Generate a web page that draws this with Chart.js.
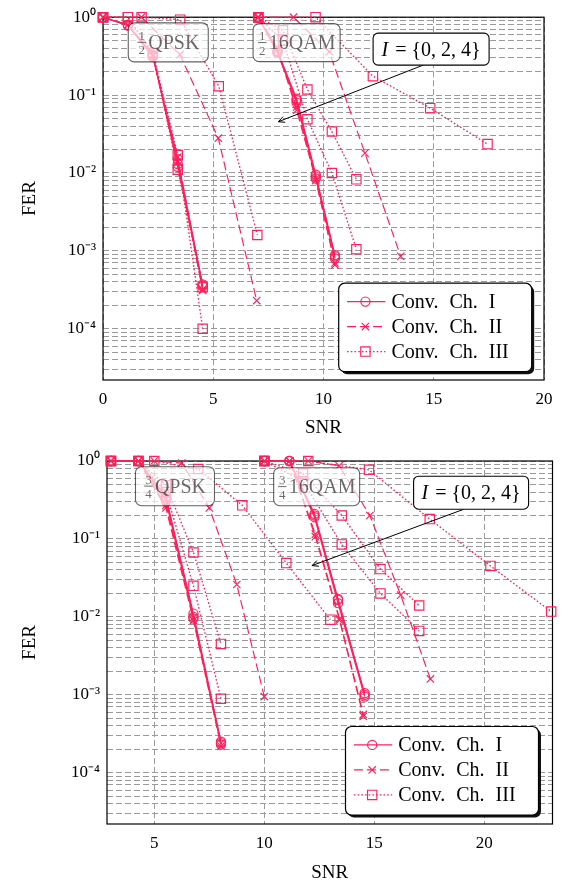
<!DOCTYPE html>
<html><head><meta charset="utf-8">
<script src="https://cdn.jsdelivr.net/npm/chart.js@4.4.1/dist/chart.umd.min.js"></script>
<style>
html,body{margin:0;padding:0;background:#fff;}
.wrap{position:relative;width:562px;height:443px;}
</style></head><body>
<div class="wrap"><canvas id="c1"></canvas></div>
<div class="wrap"><canvas id="c2"></canvas></div>
<script>
// ---------------- shared axis labels ----------------
const yTickValues = [1, 0.1, 0.01, 0.001, 0.0001];
const yTickLabels = ['10⁰', '10⁻¹', '10⁻²', '10⁻³', '10⁻⁴'];
const legendLabels = ['Conv. Ch. I', 'Conv. Ch. II', 'Conv. Ch. III'];

// ---------------- top chart: rate 1/2 ----------------
const topXTicks = [0, 5, 10, 15, 20];
const topXTickLabels = ['0', '5', '10', '15', '20'];

// 1/2 QPSK
const t_qpsk_fast_x   = [0, 1.13, 2.26, 3.39, 4.52];
const t_qpsk_ch1_i0   = [1, 0.80, 0.33, 0.012, 3.6e-4];
const t_qpsk_ch1_i2   = [1, 0.79, 0.32, 0.013, 3.5e-4];
const t_qpsk_ch1_i4   = [1, 0.78, 0.31, 0.015, 3.7e-4];
const t_qpsk_ch2_i0   = [1, 0.80, 0.33, 0.014, 3.1e-4];
const t_qpsk_ch2_i2   = [1, 0.79, 0.32, 0.016, 3.2e-4];
const t_qpsk_ch2s_x   = [0, 1.74, 3.49, 5.23, 6.97];
const t_qpsk_ch2s_y   = [1, 1, 0.33, 0.028, 2.3e-4];
const t_qpsk_ch3_i0   = [1, 1, 0.35, 0.017, 1.0e-4];
const t_qpsk_ch3_i2   = [1, 1, 0.34, 0.011, 3.4e-4];
const t_qpsk_ch3s_x   = [0, 1.75, 3.5, 5.25, 7.0];
const t_qpsk_ch3s_y   = [1, 1, 0.93, 0.13, 1.6e-3];

// 1/2 16QAM
const t_qam_fast_x    = [7.04, 7.91, 8.78, 9.65, 10.52];
const t_qam_ch1_i0    = [1, 0.36, 0.086, 0.0090, 8.5e-4];
const t_qam_ch1_i2    = [1, 0.35, 0.080, 0.0085, 8.0e-4];
const t_qam_ch1_i4    = [1, 0.37, 0.090, 0.0095, 8.8e-4];
const t_qam_ch2_i0    = [1, 0.40, 0.064, 0.0085, 6.6e-4];
const t_qam_ch2_i2    = [1, 0.38, 0.070, 0.0080, 7.0e-4];
const t_qam_ch2s_x    = [7.02, 8.64, 10.26, 11.88, 13.5];
const t_qam_ch2s_y    = [1, 1, 0.36, 0.018, 8.5e-4];
const t_qam_ch3m_x    = [7.04, 8.16, 9.27, 10.38, 11.49];
const t_qam_ch3m_a    = [1, 0.68, 0.118, 0.034, 0.0083];
const t_qam_ch3m_b    = [1, 0.50, 0.049, 0.010, 1.05e-3];
const t_qam_ch3s_x    = [7.04, 9.64, 12.24, 14.84, 17.44];
const t_qam_ch3s_y    = [1, 1, 0.175, 0.068, 0.0235];

// ---------------- bottom chart: rate 3/4 ----------------
const botXTicks = [5, 10, 15, 20];
const botXTickLabels = ['5', '10', '15', '20'];

// 3/4 QPSK
const b_qpsk_fast_x   = [3.03, 4.28, 5.53, 6.78, 8.03];
const b_qpsk_ch1_i0   = [1, 1, 0.33, 0.010, 2.4e-4];
const b_qpsk_ch1_i2   = [1, 1, 0.31, 0.0095, 2.3e-4];
const b_qpsk_ch1_i4   = [1, 1, 0.35, 0.011, 2.5e-4];
const b_qpsk_ch2_i0   = [1, 1, 0.25, 0.0090, 2.2e-4];
const b_qpsk_ch2_i2   = [1, 1, 0.27, 0.0098, 2.4e-4];
const b_qpsk_ch2s_x   = [3.03, 5.0, 6.25, 7.5, 8.75, 10.0];
const b_qpsk_ch2s_y   = [1, 1, 0.94, 0.25, 0.026, 9.5e-4];
const b_qpsk_ch3m_a   = [1, 1, 0.49, 0.067, 0.0045];
const b_qpsk_ch3m_b   = [1, 1, 0.40, 0.025, 8.9e-4];
const b_qpsk_ch3s_x   = [3.03, 5.0, 7.0, 9.0, 11.0, 13.0];
const b_qpsk_ch3s_y   = [1, 1, 0.79, 0.27, 0.049, 0.0092];

// 3/4 16QAM
const b_qam_ch1_x     = [10, 11.14, 12.28, 13.35, 14.56];
const b_qam_ch1_i0    = [1, 1, 0.20, 0.0165, 1.0e-3];
const b_qam_ch1_i2    = [1, 1, 0.19, 0.0150, 9.5e-4];
const b_qam_ch1_i4    = [1, 1, 0.21, 0.0170, 1.05e-3];
const b_qam_ch2_x     = [10, 11.15, 12.32, 13.42, 14.5];
const b_qam_ch2_i0    = [1, 1, 0.107, 0.0091, 5.3e-4];
const b_qam_ch2_i2    = [1, 1, 0.115, 0.0095, 5.6e-4];
const b_qam_ch2s_x    = [10, 12.0, 13.4, 14.8, 16.2, 17.55];
const b_qam_ch2s_y    = [1, 1, 0.87, 0.20, 0.019, 1.6e-3];
const b_qam_ch3m_x    = [10, 11.76, 13.52, 15.28, 17.04];
const b_qam_ch3m_a    = [1, 0.69, 0.20, 0.041, 0.014];
const b_qam_ch3m_b    = [1, 0.55, 0.085, 0.020, 0.0066];
const b_qam_ch3s_x    = [10, 12.0, 14.76, 17.52, 20.28, 23.04];
const b_qam_ch3s_y    = [1, 1, 0.77, 0.18, 0.045, 0.0117];

// ---------------- styling ----------------
const SERIF = '"Liberation Serif","Times New Roman",serif';
const RED = '#ff1f5a';
const STYLE = {
  I:   {dash: [],         w: 1.15, point: 'circle',   r: 4.6},
  II:  {dash: [9, 4],     w: 1.15, point: 'crossRot', r: 5.2},
  III: {dash: [1.6, 2.1], w: 1.35, point: 'rect',     r: 6.6}
};
function ds(ch, xs, ys) {
  const s = STYLE[ch];
  return {
    data: xs.map((x, i) => ({x: x, y: ys[i]})),
    borderColor: RED, borderWidth: s.w, borderDash: s.dash,
    pointStyle: s.point, pointRadius: s.r, pointHoverRadius: s.r,
    pointBorderColor: RED, pointBackgroundColor: 'rgba(0,0,0,0)', pointBorderWidth: 1.15,
    fill: false, tension: 0, clip: false
  };
}

function yGrid(min, max) {
  const out = [];
  for (let k = -6; k <= 0; k++) for (let m = 1; m <= 9; m++) {
    const v = m * Math.pow(10, k);
    if (v >= min * 0.999 && v <= max * 1.001) out.push(v);
  }
  return out;
}
function yLabel(v) {
  for (let i = 0; i < yTickValues.length; i++)
    if (Math.abs(Math.log10(v) - Math.log10(yTickValues[i])) < 1e-6) return yTickLabels[i];
  return '';
}

function roundRect(ctx, x, y, w, h, r) {
  ctx.beginPath();
  ctx.moveTo(x + r, y);
  ctx.lineTo(x + w - r, y); ctx.arcTo(x + w, y, x + w, y + r, r);
  ctx.lineTo(x + w, y + h - r); ctx.arcTo(x + w, y + h, x + w - r, y + h, r);
  ctx.lineTo(x + r, y + h); ctx.arcTo(x, y + h, x, y + h - r, r);
  ctx.lineTo(x, y + r); ctx.arcTo(x, y, x + r, y, r);
  ctx.closePath();
}

function drawMarker(ctx, ch, x, y) {
  const s = STYLE[ch];
  ctx.save();
  ctx.setLineDash([]);
  ctx.strokeStyle = RED; ctx.lineWidth = 1.15; ctx.fillStyle = 'rgba(0,0,0,0)';
  Chart.helpers.drawPoint(ctx, {pointStyle: s.point, radius: s.r, rotation: 0, borderWidth: 1.15}, x, y);
  ctx.restore();
}

const decorPlugin = {
  id: 'decor',
  beforeDatasetsDraw(chart) {
    const {ctx, chartArea: a} = chart;
    ctx.save();
    ctx.strokeStyle = '#000'; ctx.lineWidth = 1.2; ctx.setLineDash([]);
    ctx.strokeRect(a.left, a.top, a.right - a.left, a.bottom - a.top);
    ctx.restore();
  },
  afterDatasetsDraw(chart, args, opts) {
    const {ctx, chartArea: a} = chart;
    const xs = chart.scales.x, ys = chart.scales.y;
    ctx.save();
    // label boxes
    opts.boxes.forEach(b => {
      const cx = xs.getPixelForValue(b.x), cy = ys.getPixelForValue(b.y);
      const L = cx - b.w / 2, T = cy - b.h / 2;
      roundRect(ctx, L, T, b.w, b.h, 6);
      ctx.fillStyle = 'rgba(255,255,255,0.68)'; ctx.fill();
      ctx.strokeStyle = 'rgba(0,0,0,0.62)'; ctx.lineWidth = 1.1; ctx.setLineDash([]); ctx.stroke();
      ctx.font = '20px ' + SERIF;
      const tw = ctx.measureText(b.text).width;
      const fw = 9, gap = 2;
      const start = cx - (fw + gap + tw) / 2;
      const fx = start + fw / 2;
      ctx.fillStyle = 'rgba(0,0,0,0.58)';
      ctx.textAlign = 'center'; ctx.textBaseline = 'alphabetic';
      ctx.font = '13px ' + SERIF;
      ctx.fillText(b.num, fx, cy - 2.5);
      ctx.fillText(b.den, fx, cy + 12);
      ctx.fillRect(fx - 4.2, cy - 0.6, 8.4, 1);
      ctx.textAlign = 'left';
      ctx.font = '20px ' + SERIF;
      ctx.fillText(b.text, start + fw + gap, cy + 6.5);
    });
    // arrow
    const ar = opts.arrow;
    const x1 = xs.getPixelForValue(ar.x1), y1 = ys.getPixelForValue(ar.y1);
    const x2 = xs.getPixelForValue(ar.x2), y2 = ys.getPixelForValue(ar.y2);
    ctx.strokeStyle = '#000'; ctx.lineWidth = 1; ctx.setLineDash([]);
    ctx.beginPath(); ctx.moveTo(x1, y1); ctx.lineTo(x2, y2); ctx.stroke();
    const ang = Math.atan2(y2 - y1, x2 - x1);
    ctx.beginPath();
    ctx.moveTo(x2 - 7 * Math.cos(ang - 0.45), y2 - 7 * Math.sin(ang - 0.45));
    ctx.lineTo(x2, y2);
    ctx.lineTo(x2 - 7 * Math.cos(ang + 0.45), y2 - 7 * Math.sin(ang + 0.45));
    ctx.stroke();
    // I box
    const ib = opts.ibox;
    const icx = xs.getPixelForValue(ib.x), icy = ys.getPixelForValue(ib.y);
    roundRect(ctx, icx - ib.w / 2, icy - ib.h / 2, ib.w, ib.h, 5);
    ctx.fillStyle = '#fff'; ctx.fill();
    ctx.strokeStyle = '#000'; ctx.lineWidth = 1.1; ctx.stroke();
    ctx.fillStyle = '#000'; ctx.textAlign = 'left'; ctx.textBaseline = 'alphabetic';
    ctx.font = 'italic 20px ' + SERIF;
    const w1 = ctx.measureText('I').width;
    ctx.font = '20px ' + SERIF;
    const rest = ' = {0, 2, 4}';
    const w2 = ctx.measureText(rest).width;
    const sx = icx - (w1 + w2 + 2) / 2;
    ctx.font = 'italic 20px ' + SERIF;
    ctx.fillText('I', sx, icy + 6.5);
    ctx.font = '20px ' + SERIF;
    ctx.fillText(rest, sx + w1 + 2, icy + 6.5);
    // legend
    const lg = opts.legend;
    const lw = 193, lh = 88.5;
    const lr = a.right - lg.rightGap, lb = a.bottom - lg.bottomGap;
    const ll = lr - lw, lt = lb - lh;
    roundRect(ctx, ll + 2.5, lt + 2.5, lw, lh, 6);
    ctx.fillStyle = '#111'; ctx.fill();
    roundRect(ctx, ll, lt, lw, lh, 6);
    ctx.fillStyle = '#fff'; ctx.fill();
    ctx.strokeStyle = '#000'; ctx.lineWidth = 1.2; ctx.stroke();
    ['I', 'II', 'III'].forEach((ch, i) => {
      const cy = lt + 18.4 + 25 * i;
      ctx.save();
      ctx.strokeStyle = RED; ctx.lineWidth = STYLE[ch].w; ctx.setLineDash(STYLE[ch].dash);
      ctx.beginPath(); ctx.moveTo(ll + 8.4, cy); ctx.lineTo(ll + 46.7, cy); ctx.stroke();
      ctx.restore();
      drawMarker(ctx, ch, ll + 26.7, cy);
      ctx.fillStyle = '#000'; ctx.font = '20px ' + SERIF; ctx.textAlign = 'left';
      if ('wordSpacing' in ctx) ctx.wordSpacing = '6px';
      ctx.fillText(legendLabels[i], ll + 52.7, cy + 6.5);
      if ('wordSpacing' in ctx) ctx.wordSpacing = '0px';
    });
    ctx.restore();
  }
};

function makeChart(id, cfg) {
  return new Chart(document.getElementById(id), {
    type: 'line',
    data: {datasets: cfg.datasets},
    plugins: [decorPlugin],
    options: {
      responsive: true, maintainAspectRatio: false, animation: false,
      devicePixelRatio: 1,
      layout: {padding: cfg.padding},
      plugins: {legend: {display: false}, tooltip: {enabled: false}, decor: cfg.decor},
      scales: {
        x: {
          type: 'linear', min: cfg.xmin, max: cfg.xmax,
          afterBuildTicks: s => { s.ticks = cfg.xTicks.map(v => ({value: v})); },
          afterFit: s => { s.height = cfg.xHeight; },
          grid: {color: '#9a9a9a', lineWidth: 1, drawTicks: false},
          border: {display: false, dash: [6, 3]},
          ticks: {autoSkip: false, maxRotation: 0, padding: 9, color: '#000',
                  font: {family: SERIF, size: 17},
                  callback: (v, i) => cfg.xTickLabels[i]},
          title: {display: true, text: 'SNR', color: '#000', font: {family: SERIF, size: 19},
                  padding: {top: 0, bottom: cfg.xTitlePad}}
        },
        y: {
          type: 'logarithmic', min: 2.2e-5, max: 1,
          afterBuildTicks: s => { s.ticks = yGrid(2.2e-5, 1).map(v => ({value: v})); },
          afterFit: s => { s.width = cfg.yWidth; },
          grid: {color: '#9a9a9a', lineWidth: 1, drawTicks: false},
          border: {display: false, dash: [6, 3]},
          ticks: {autoSkip: false, padding: 7, color: '#000',
                  font: {family: SERIF, size: 17},
                  callback: v => yLabel(v)},
          title: {display: true, text: 'FER', color: '#000', font: {family: SERIF, size: 19},
                  padding: {top: 18.5, bottom: 0}}
        }
      }
    }
  });
}

makeChart('c1', {
  padding: {left: 0, right: 18, top: 17, bottom: 0},
  xmin: 0, xmax: 20, xTicks: topXTicks, xTickLabels: topXTickLabels,
  xHeight: 63, yWidth: 103, xTitlePad: 3.6,
  datasets: [
    ds('I', t_qpsk_fast_x, t_qpsk_ch1_i0), ds('I', t_qpsk_fast_x, t_qpsk_ch1_i2), ds('I', t_qpsk_fast_x, t_qpsk_ch1_i4),
    ds('II', t_qpsk_fast_x, t_qpsk_ch2_i0), ds('II', t_qpsk_fast_x, t_qpsk_ch2_i2), ds('II', t_qpsk_ch2s_x, t_qpsk_ch2s_y),
    ds('III', t_qpsk_fast_x, t_qpsk_ch3_i0), ds('III', t_qpsk_fast_x, t_qpsk_ch3_i2), ds('III', t_qpsk_ch3s_x, t_qpsk_ch3s_y),
    ds('I', t_qam_fast_x, t_qam_ch1_i0), ds('I', t_qam_fast_x, t_qam_ch1_i2), ds('I', t_qam_fast_x, t_qam_ch1_i4),
    ds('II', t_qam_fast_x, t_qam_ch2_i0), ds('II', t_qam_fast_x, t_qam_ch2_i2), ds('II', t_qam_ch2s_x, t_qam_ch2s_y),
    ds('III', t_qam_ch3m_x, t_qam_ch3m_a), ds('III', t_qam_ch3m_x, t_qam_ch3m_b), ds('III', t_qam_ch3s_x, t_qam_ch3s_y)
  ],
  decor: {
    boxes: [
      {x: 2.96, y: 0.475, w: 80, h: 39, num: '1', den: '2', text: 'QPSK'},
      {x: 8.78, y: 0.471, w: 87, h: 38, num: '1', den: '2', text: '16QAM'}
    ],
    ibox: {x: 14.88, y: 0.389, w: 116, h: 32},
    arrow: {x1: 14.53, y1: 0.243, x2: 7.95, y2: 0.0455},
    legend: {rightGap: 12.3, bottomGap: 8.3}
  }
});

makeChart('c2', {
  padding: {left: 0, right: 9.5, top: 18, bottom: 0},
  xmin: 2.85, xmax: 23.1, xTicks: botXTicks, xTickLabels: botXTickLabels,
  xHeight: 62, yWidth: 107, xTitlePad: 1.6,
  datasets: [
    ds('I', b_qpsk_fast_x, b_qpsk_ch1_i0), ds('I', b_qpsk_fast_x, b_qpsk_ch1_i2), ds('I', b_qpsk_fast_x, b_qpsk_ch1_i4),
    ds('II', b_qpsk_fast_x, b_qpsk_ch2_i0), ds('II', b_qpsk_fast_x, b_qpsk_ch2_i2), ds('II', b_qpsk_ch2s_x, b_qpsk_ch2s_y),
    ds('III', b_qpsk_fast_x, b_qpsk_ch3m_a), ds('III', b_qpsk_fast_x, b_qpsk_ch3m_b), ds('III', b_qpsk_ch3s_x, b_qpsk_ch3s_y),
    ds('I', b_qam_ch1_x, b_qam_ch1_i0), ds('I', b_qam_ch1_x, b_qam_ch1_i2), ds('I', b_qam_ch1_x, b_qam_ch1_i4),
    ds('II', b_qam_ch2_x, b_qam_ch2_i0), ds('II', b_qam_ch2_x, b_qam_ch2_i2), ds('II', b_qam_ch2s_x, b_qam_ch2s_y),
    ds('III', b_qam_ch3m_x, b_qam_ch3m_a), ds('III', b_qam_ch3m_x, b_qam_ch3m_b), ds('III', b_qam_ch3s_x, b_qam_ch3s_y)
  ],
  decor: {
    boxes: [
      {x: 5.94, y: 0.475, w: 79, h: 39, num: '3', den: '4', text: 'QPSK'},
      {x: 12.38, y: 0.468, w: 86, h: 38, num: '3', den: '4', text: '16QAM'}
    ],
    ibox: {x: 19.4, y: 0.392, w: 115, h: 33},
    arrow: {x1: 19.06, y1: 0.24, x2: 12.17, y2: 0.0455},
    legend: {rightGap: 14, bottomGap: 9}
  }
});
</script>
</body></html>
